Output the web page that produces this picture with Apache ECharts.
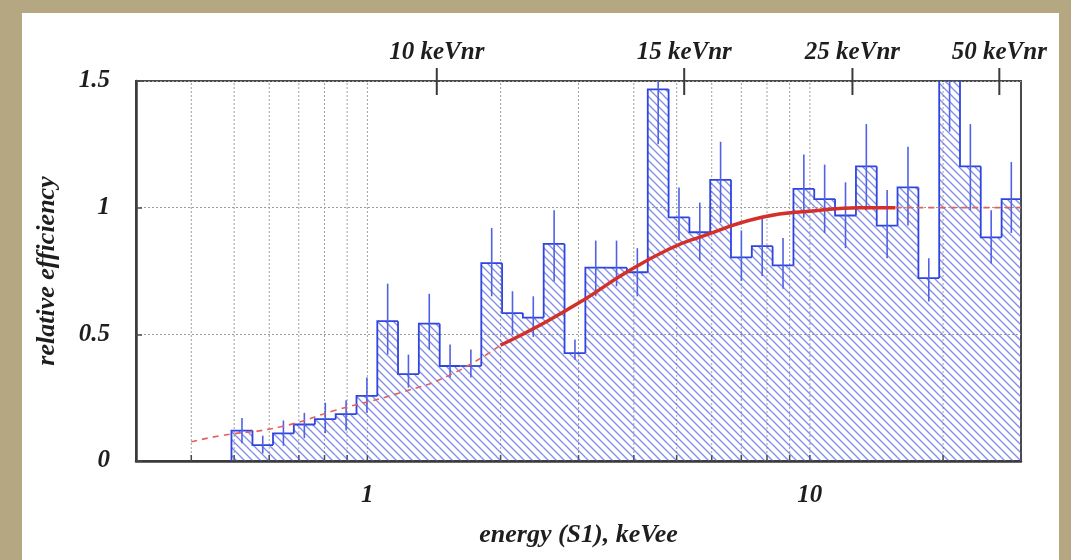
<!DOCTYPE html>
<html>
<head>
<meta charset="utf-8">
<script src="https://cdn.jsdelivr.net/npm/echarts@6/dist/echarts.min.js"></script>
<style>
  html, body { margin: 0; padding: 0; width: 1071px; height: 560px; overflow: hidden;
    background: #b5a781; }
  #panel { position: absolute; left: 22px; top: 13px; width: 1037px; height: 547px; background: #ffffff; }
  #chart { position: absolute; left: 0; top: 0; width: 1071px; height: 560px; }
</style>
</head>
<body>
<div id="panel"></div>
<div id="chart"></div>
<script>
// ---------- data ----------
const binEdges = [0.493, 0.550, 0.612, 0.682, 0.761, 0.848, 0.945, 1.053, 1.173, 1.307,
  1.457, 1.623, 1.809, 2.016, 2.246, 2.503, 2.790, 3.109, 3.464, 3.860,
  4.302, 4.794, 5.342, 5.953, 6.633, 7.392, 8.237, 9.181, 10.23, 11.40,
  12.71, 14.16, 15.78, 17.59, 19.60, 21.84, 24.33, 27.12, 30.0];
const binValues = [0.12, 0.063, 0.109, 0.144, 0.165, 0.185, 0.257, 0.552, 0.343, 0.542,
  0.375, 0.375, 0.781, 0.584, 0.566, 0.857, 0.426, 0.763, 0.763, 0.745,
  1.467, 0.962, 0.903, 1.11, 0.804, 0.848, 0.772, 1.074, 1.034, 0.969,
  1.163, 0.929, 1.08, 0.722, 1.62, 1.163, 0.883, 1.034];
const errLow = [0.07, 0.03, 0.06, 0.09, 0.11, 0.12, 0.19, 0.42, 0.29, 0.44,
  0.33, 0.33, 0.65, 0.50, 0.49, 0.71, 0.40, 0.65, 0.69, 0.65,
  1.25, 0.87, 0.79, 0.94, 0.71, 0.73, 0.68, 0.96, 0.90, 0.84,
  0.99, 0.80, 0.93, 0.63, 1.30, 0.99, 0.78, 0.90];
const errHigh = [0.17, 0.10, 0.16, 0.19, 0.23, 0.24, 0.33, 0.70, 0.42, 0.66,
  0.46, 0.44, 0.92, 0.67, 0.65, 0.99, 0.48, 0.87, 0.87, 0.84,
  1.70, 1.08, 1.02, 1.26, 0.91, 0.96, 0.88, 1.21, 1.17, 1.10,
  1.33, 1.07, 1.24, 0.80, 1.90, 1.33, 0.99, 1.18];

const fitLow = [[0.4, 0.076], [0.467, 0.10], [0.637, 0.135], [0.847, 0.20], [1.19, 0.27], [1.54, 0.34], [2.0, 0.457]];
const fitMain = [[2.0, 0.457], [2.49, 0.542], [3.07, 0.634], [3.85, 0.745], [4.81, 0.837], [5.62, 0.883],
  [7.79, 0.962], [10.3, 0.988], [12.9, 1.0], [15.6, 1.0]];
const fitHigh = [[15.6, 1.0], [30, 1.0]];

const gridXValues = [0.4, 0.5, 0.6, 0.7, 0.8, 0.9, 1, 2, 3, 4, 5, 6, 7, 8, 9, 10, 20];
const topTickPos = [1.435, 5.20, 12.48, 26.8];
const topTickLabels = ['10 keVnr', '15 keVnr', '25 keVnr', '50 keVnr'];
const xTickLabels = ['1', '10'];

// ---------- styles ----------
const FONT = 'Liberation Serif, Times New Roman, serif';
const TXT = '#1e1e1e';
const BORDER = '#4a4a4a';

// hatch pattern "\\\\"
const hc = document.createElement('canvas');
hc.width = 8; hc.height = 8;
const g = hc.getContext('2d');
g.strokeStyle = 'rgba(80,95,220,0.72)';
g.lineWidth = 1.3;
g.beginPath();
g.moveTo(-2, -2); g.lineTo(10, 10);
g.moveTo(-2, 6); g.lineTo(2, 10);
g.moveTo(6, -2); g.lineTo(10, 2);
g.stroke();
const hatch = { image: hc, repeat: 'repeat' };

const histData = binValues.map((v, i) => [binEdges[i], binEdges[i + 1], v, errLow[i], errHigh[i], i > 0 ? binValues[i - 1] : 0]);

const chart = echarts.init(document.getElementById('chart'), null, { renderer: 'canvas' });
chart.setOption({
  backgroundColor: 'transparent',
  animation: false,
  grid: { left: 136, right: 50, top: 81, bottom: 99, show: true, borderColor: BORDER, borderWidth: 2, backgroundColor: 'transparent' },
  xAxis: {
    type: 'log', logBase: 10, min: 0.3, max: 30,
    name: 'energy (S1), keVee', nameLocation: 'middle', nameGap: 61,
    nameTextStyle: { fontFamily: FONT, fontStyle: 'italic', fontWeight: 'bold', fontSize: 26, color: TXT },
    axisLine: { show: true, lineStyle: { color: '#3a3a3a', width: 2.5 } },
    axisTick: { show: false },
    splitLine: { show: false },
    axisLabel: {
      margin: 22, fontFamily: FONT, fontStyle: 'italic', fontWeight: 'bold', fontSize: 25, color: TXT,
      formatter: function (v) {
        for (const s of xTickLabels) { if (Math.abs(v - Number(s)) < 1e-6 * Number(s)) return s; }
        return '';
      }
    }
  },
  yAxis: {
    type: 'value', min: 0, max: 1.5, interval: 0.5,
    name: 'relative efficiency', nameLocation: 'middle', nameGap: 76, nameRotate: 90,
    nameTextStyle: { fontFamily: FONT, fontStyle: 'italic', fontWeight: 'bold', fontSize: 26, color: TXT },
    axisLine: { show: true, lineStyle: { color: '#3a3a3a', width: 2.5 } },
    axisTick: { show: true, inside: true, length: 6, lineStyle: { color: BORDER, width: 1.5 } },
    splitLine: { show: true, lineStyle: { color: '#9c9c9c', width: 1, type: [2, 2] } },
    axisLabel: { margin: 26, fontFamily: FONT, fontStyle: 'italic', fontWeight: 'bold', fontSize: 25, color: TXT }
  },
  series: [
    {
      type: 'custom', name: 'grid', z: 1, silent: true,
      data: gridXValues.map(v => [v, 0]),
      renderItem: function (params, api) {
        const b = api.coord([api.value(0), 0]);
        const t = api.coord([api.value(0), 1.5]);
        return { type: 'group', children: [
          { type: 'line', shape: { x1: b[0], y1: b[1], x2: t[0], y2: t[1] },
            style: { stroke: '#a0a0a0', lineWidth: 1, lineDash: [2, 2] } },
          { type: 'line', shape: { x1: b[0], y1: b[1], x2: b[0], y2: b[1] - 6 },
            style: { stroke: BORDER, lineWidth: 1.5 } }
        ] };
      }
    },
    {
      type: 'custom', name: 'histogram', z: 2, clip: true,
      data: histData,
      encode: { x: [0, 1], y: [2, 3, 4] },
      renderItem: function (params, api) {
        const x0 = api.value(0), x1 = api.value(1), v = api.value(2);
        const lo = api.value(3), hi = api.value(4), prev = api.value(5);
        const p0 = api.coord([x0, 0]);
        const p1 = api.coord([x1, v]);
        const pp = api.coord([x0, prev]);
        const xc = (p0[0] + p1[0]) / 2;
        const yLo = api.coord([x0, lo])[1];
        const yHi = api.coord([x0, hi])[1];
        return { type: 'group', children: [
          { type: 'rect', shape: { x: p0[0], y: p1[1], width: p1[0] - p0[0], height: p0[1] - p1[1] },
            style: { fill: hatch } },
          { type: 'polyline', shape: { points: [[p0[0], pp[1]], [p0[0], p1[1]], [p1[0], p1[1]]] },
            style: { stroke: '#2f45e2', lineWidth: 1.8, fill: null } },
          { type: 'line', shape: { x1: xc, y1: yLo, x2: xc, y2: yHi },
            style: { stroke: '#5062e4', lineWidth: 1.6 } }
        ] };
      }
    },
    {
      type: 'line', name: 'fit-low', z: 3, data: fitLow, symbol: 'none', smooth: 0.5,
      lineStyle: { color: '#e2615b', width: 1.6, type: [6, 5] }
    },
    {
      type: 'line', name: 'fit', z: 3, data: fitMain, symbol: 'none', smooth: 0.5,
      lineStyle: { color: '#d4302a', width: 3.5 }
    },
    {
      type: 'line', name: 'fit-high', z: 3, data: fitHigh, symbol: 'none',
      lineStyle: { color: '#e2615b', width: 1.6, type: [6, 5] }
    },
    {
      type: 'custom', name: 'keVnr', z: 4, silent: true,
      data: topTickPos.map(v => [v, 1.5]),
      renderItem: function (params, api) {
        const p = api.coord([api.value(0), 1.5]);
        return { type: 'group', children: [
          { type: 'line', shape: { x1: p[0], y1: p[1] - 13, x2: p[0], y2: p[1] + 14 },
            style: { stroke: '#3a3a3a', lineWidth: 2 } },
          { type: 'text', style: { text: topTickLabels[params.dataIndex], x: p[0], y: p[1] - 28,
              align: 'center', verticalAlign: 'middle',
              font: 'italic bold 25px ' + FONT, fill: TXT } }
        ] };
      }
    }
  ]
});
</script>
</body>
</html>
